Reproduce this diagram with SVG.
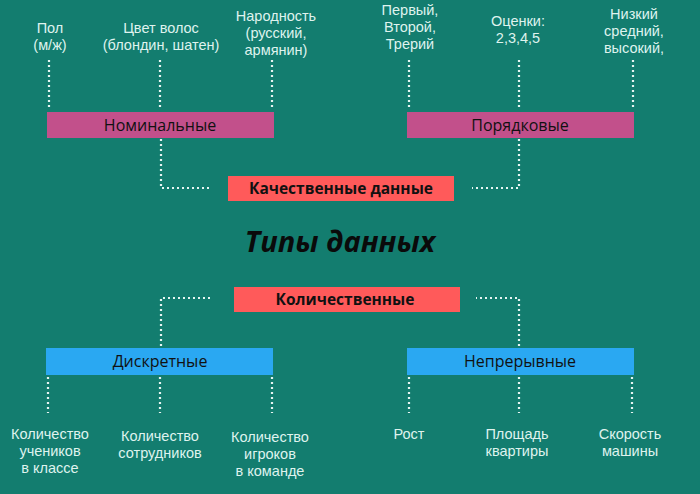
<svg xmlns="http://www.w3.org/2000/svg" width="700" height="494" viewBox="0 0 700 494">
<style>
text{font-family:"Open Sans","Noto Sans",sans-serif;}
.lb{fill:#dff3ee;font-size:14.5px;text-anchor:middle;font-family:"Liberation Sans",Arial,sans-serif}
.bt{fill:#111;font-size:16px;text-anchor:middle}
.rt{fill:#111;font-size:15.5px;font-weight:bold;text-anchor:middle}
.d{fill:none;stroke:#e6f5f2;stroke-width:2.2;stroke-dasharray:2 3}
</style>
<rect width="700" height="494" fill="#137d6f"/>
<g id="connectors">
<path class="d" d="M49 60V110M160 60V110M272 60V110M409 60V110M519 60V110M633 60V110"/>
<path class="d" d="M161 139V188H212M519 139V188H472"/>
<path class="d" d="M161 346V298H212M519 346V298H476"/>
<path class="d" d="M48 377V413M160 377V413M272 377V413M409 377V413M519 377V413M632 377V413"/>
</g>
<g id="nom-labels">
<text class="lb" x="50" y="33">Пол</text><text class="lb" x="50" y="50">(м/ж)</text>
<text class="lb" x="161" y="33">Цвет волос</text><text class="lb" x="161" y="50">(блондин, шатен)</text>
<text class="lb" x="276" y="21">Народность</text><text class="lb" x="276" y="38">(русский,</text><text class="lb" x="276" y="55">армянин)</text>
</g>
<g id="ord-labels">
<text class="lb" x="410" y="15">Первый,</text><text class="lb" x="410" y="32">Второй,</text><text class="lb" x="410" y="49">Трерий</text>
<text class="lb" x="518" y="26">Оценки:</text><text class="lb" x="518" y="43">2,3,4,5</text>
<text class="lb" x="634" y="19">Низкий</text><text class="lb" x="634" y="36">средний,</text><text class="lb" x="634" y="53">высокий,</text>
</g>
<g id="nominal"><rect x="47" y="112" width="227" height="26" fill="#c2508b"/><text class="bt" x="160" y="131">Номинальные</text></g>
<g id="ordinal"><rect x="407" y="112" width="227" height="26" fill="#c2508b"/><text class="bt" x="520" y="131">Порядковые</text></g>
<g id="qual"><rect x="228" y="176" width="226" height="25" fill="#ff5a5a"/><text class="rt" x="341" y="194">Качественные данные</text></g>
<g id="title"><text x="340" y="252" text-anchor="middle" font-size="29" font-weight="bold" font-style="italic" fill="#0a0a0a">Типы данных</text></g>
<g id="quant"><rect x="234" y="287" width="226" height="25" fill="#ff5a5a"/><text class="rt" x="345" y="305">Количественные</text></g>
<g id="discrete"><rect x="46" y="348" width="227" height="27" fill="#2aa8f2"/><text class="bt" x="160" y="367">Дискретные</text></g>
<g id="continuous"><rect x="407" y="348" width="227" height="27" fill="#2aa8f2"/><text class="bt" x="520" y="367">Непрерывные</text></g>
<g id="disc-labels">
<text class="lb" x="50" y="439">Количество</text><text class="lb" x="50" y="456">учеников</text><text class="lb" x="50" y="473">в классе</text>
<text class="lb" x="160" y="441">Количество</text><text class="lb" x="160" y="458">сотрудников</text>
<text class="lb" x="270" y="442">Количество</text><text class="lb" x="270" y="459">игроков</text><text class="lb" x="270" y="476">в команде</text>
</g>
<g id="cont-labels">
<text class="lb" x="409" y="439">Рост</text>
<text class="lb" x="517" y="439">Площадь</text><text class="lb" x="517" y="456">квартиры</text>
<text class="lb" x="630" y="439">Скорость</text><text class="lb" x="630" y="456">машины</text>
</g>
</svg>
